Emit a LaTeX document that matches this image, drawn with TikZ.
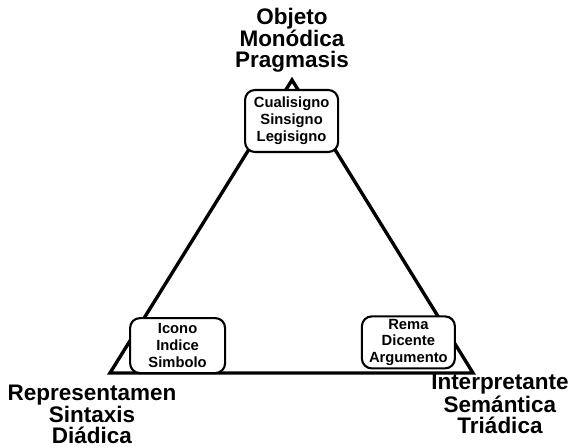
\documentclass[tikz,border=0pt]{standalone}
\usepackage{fontspec}
\setmainfont{Liberation Sans}

\tikzset{
	caja/.style={draw,line width=1.5pt,rounded corners=7pt,fill=white,inner sep=0pt,align=center,font=\bfseries\fontsize{10.5}{12}\selectfont},
	rotulo/.style={align=center,inner sep=0pt,font=\bfseries\fontsize{16}{14.8}\selectfont}
}

\begin{document}
\begin{tikzpicture}
				\useasboundingbox(0,0)rectangle(14.275,11.2);
				\coordinate(objeto)at(7.3,9.2);
				\coordinate(repre)at(2.75,1.875);
				\coordinate(interp)at(11.825,1.875);
				\draw[line width=2.4pt,line join=miter](objeto)--(repre)--(interp)--cycle;
				\node[caja,minimum width=2.325cm,minimum height=1.55cm](cuali)at(7.29,8.175){Cualisigno\\Sinsigno\\Legisigno};
				\node[caja,minimum width=2.375cm,minimum height=1.375cm](icono)at(4.44,2.56){Icono\\Indice\\Simbolo};
				\node[caja,minimum width=2.325cm,minimum height=1.3cm](rema)at(10.21,2.64){Rema\\Dicente\\Argumento};
				\node[rotulo](top)at(7.3,10.2){Objeto\\Monódica\\Pragmasis};
				\node[rotulo](izq)at(2.3,0.85){Representamen\\Sintaxis\\Diádica};
				\node[rotulo](der)at(12.5,1.1){Interpretante\\Semántica\\Triádica};
			\end{tikzpicture}
\end{document}
